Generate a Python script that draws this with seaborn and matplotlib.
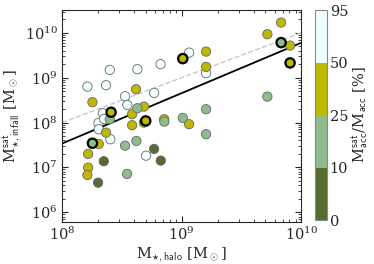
import numpy as np
import pandas as pd
import matplotlib
matplotlib.use('Agg')
import matplotlib.pyplot as plt
import matplotlib.colors as mcolors
import seaborn as sns

# log10 stellar masses
log_mhalo = [8.212, 8.368, 8.399, 8.630, 8.824, 9.063, 8.527, 8.546, 8.770, 8.341, 8.305, 8.351, 8.307, 8.404, 8.703, 9.205,
             8.254, 8.619, 8.686, 8.586, 8.684, 8.586, 8.854, 9.063, 8.368, 8.307, 8.218, 8.218, 8.212, 9.205, 9.205, 9.718, 9.833, 9.908,
             9.010, 8.410, 8.700, 9.908,
             8.630, 8.399, 8.856, 9.010, 8.527, 8.622, 8.544, 9.205, 9.205, 9.718,
             8.254, 9.833,
             8.349, 8.770, 8.826, 8.301]
log_msat = [8.801, 8.833, 9.174, 9.190, 9.301, 9.560, 8.587, 8.393, 8.661, 8.208, 7.991, 8.080, 7.850, 7.627, 7.261, 9.100,
            8.453, 8.743, 8.355, 8.185, 7.998, 7.940, 8.074, 7.962, 7.775, 7.522, 7.299, 6.993, 6.830, 9.583, 9.241, 9.971, 10.230, 9.717,
            9.426, 8.230, 8.036, 9.330,
            8.319, 8.074, 8.020, 8.103, 7.484, 7.589, 6.853, 7.739, 8.297, 8.578,
            7.538, 9.783,
            7.136, 7.411, 7.150, 6.658]
frac_pct = [70] * 16 + [35] * 22 + [15] * 12 + [5] * 4
highlight = [0] * 34 + [1] * 4 + [0] * 10 + [1] * 2 + [0] * 4

bounds = [0, 10, 25, 50, 95]
bin_colors = ['#556b2f', '#8fbc8f', '#bfb800', '#f0ffff']

# fit lines
fit_x = [1e8, 1e10]
fit_y = [3.4e7, 6.0e9]
one_x = [1e8, 1e10]
one_y = [1e8, 1e10]

df = pd.DataFrame({'mhalo': 10 ** np.array(log_mhalo), 'msat': 10 ** np.array(log_msat),
                   'frac': frac_pct, 'hl': highlight})
df['bin'] = pd.cut(df['frac'], bounds, labels=False)

sns.set_style('ticks')
plt.rcParams['font.family'] = ['DejaVu Serif']
plt.rcParams['mathtext.fontset'] = 'cm'

fig = plt.figure(figsize=(3.74, 2.64), dpi=100)
ax = fig.add_axes([0.166, 0.159, 0.639, 0.803])
cax = fig.add_axes([0.842, 0.166, 0.032, 0.796])

ax.plot(one_x, one_y, ls='--', color='#c8c8c8', lw=1.0, zorder=1)
ax.plot(fit_x, fit_y, color='black', lw=1.3, zorder=2)

pal = {i: c for i, c in enumerate(bin_colors)}
plain = df[df['hl'] == 0]
hl = df[df['hl'] == 1]
sns.scatterplot(data=plain, x='mhalo', y='msat', hue='bin', palette=pal, s=45,
                edgecolor='#666666', linewidth=0.6, legend=False, ax=ax, zorder=3)
sns.scatterplot(data=hl, x='mhalo', y='msat', hue='bin', palette=pal, s=45,
                edgecolor='black', linewidth=1.6, legend=False, ax=ax, zorder=4)

ax.set_xscale('log')
ax.set_yscale('log')
ax.set_xlim(1e8, 1e10)
ax.set_ylim(10 ** 5.78, 10 ** 10.51)
ax.tick_params(which='both', direction='in', top=True, right=True, labelsize=10.5, pad=3)
ax.tick_params(which='major', length=4)
ax.tick_params(which='minor', length=2)
ax.set_xlabel(r'M$_{\star,\mathsf{halo}}$ [M$_\odot$]', fontsize=10.5, labelpad=2)
ax.set_ylabel(r'M$^{\mathsf{sat}}_{\star,\mathsf{infall}}$ [M$_\odot$]', fontsize=10.5, labelpad=1)

cmap = mcolors.ListedColormap(bin_colors)
norm = mcolors.BoundaryNorm(bounds, cmap.N)
sm = matplotlib.cm.ScalarMappable(cmap=cmap, norm=norm)
cb = fig.colorbar(sm, cax=cax, ticks=bounds, spacing='uniform')
cb.outline.set_edgecolor('#888888')
cb.ax.tick_params(size=0, labelsize=10.5, pad=2)
cb.set_label(r'M$^{\mathsf{sat}}_{\mathsf{acc}}$/M$_{\mathsf{acc}}$ [%]', fontsize=10.5, labelpad=2)

fig.savefig('out.png', dpi=100)
